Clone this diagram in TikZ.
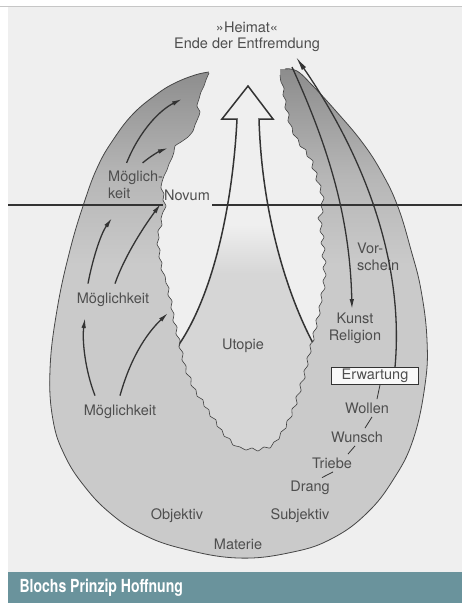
\documentclass[tikz,border=0pt]{standalone}
\usepackage{fontspec}
\setmainfont{TeX Gyre Heros}
\newfontfamily\capfont[FakeStretch=0.78]{TeX Gyre Heros}
\usetikzlibrary{arrows.meta, calc}

\definecolor{panel}{HTML}{EFEFEF}
\definecolor{eggtop}{HTML}{8C8C8C}
\definecolor{eggmid}{HTML}{B6B6B6}
\definecolor{egglow}{HTML}{CACACA}
\definecolor{utop}{HTML}{D6D6D6}
\definecolor{ink}{HTML}{333333}
\definecolor{txt}{HTML}{4E4E4E}
\definecolor{bar}{HTML}{6A939C}

% path box sits between 25bp and 75bp
\pgfdeclareverticalshading{eggshade}{100bp}{color(0bp)=(egglow); color(55bp)=(egglow); color(64bp)=(eggmid); color(75bp)=(eggtop); color(100bp)=(eggtop)}
\pgfdeclareverticalshading{utoshade}{100bp}{color(0bp)=(utop); color(53bp)=(utop); color(60bp)=(panel); color(100bp)=(panel)}

% outer rim of the egg
\newcommand{\eggpts}{plot[smooth, tension=0.7] coordinates {(209,72) (195,75) (175,83) (157,94) (133,114) (113,140) (98,166) (85,200) (70,250) (57,310) (50,370) (53,420) (65,456) (85,487) (110,513) (140,533) (180,548) (238,558) (293,552) (333,538) (367,513) (393,480) (413,440) (425,385) (427,340) (421,290) (411,250) (398,207) (382,173) (362,142) (335,110) (312,85) (297,71) (285,69)}}
% torn inner edge, left lobe -> bottom -> right lobe
\newcommand{\tornedge}{plot[smooth, tension=0.4] coordinates {(209,73) (206,80) (204,86) (201,92) (199,99) (197,106) (200,112) (198,118) (195,125) (193,131) (188,137) (181,142) (175,146) (174,152) (172,158) (169,164) (167,170) (164,176) (162,182) (161,188) (164,194) (163,200) (166,206) (163,212) (161,219) (162,225) (158,231) (159,238) (157,244) (160,250) (159,257) (162,263) (161,269) (165,276) (166,283) (169,288) (168,295) (172,301) (171,308) (174,314) (173,321) (177,327) (176,334) (180,340) (179,347) (183,353) (182,360) (186,366) (186,373) (191,378) (191,385) (196,390) (197,396) (203,400) (204,406) (209,410) (210,416) (216,420) (217,426) (222,430) (224,436) (230,439) (233,445) (240,447) (246,450) (252,448) (258,451) (264,447) (270,448) (274,442) (279,439) (281,432) (286,428) (287,421) (292,416) (292,409) (297,404) (296,397) (301,391) (300,384) (305,378) (304,371) (308,365) (307,358) (311,352) (310,345) (314,340) (313,333) (317,327) (316,320) (320,314) (319,307) (322,301) (321,294) (325,288) (323,281) (326,275) (323,268) (326,262) (322,256) (325,249) (321,243) (324,237) (320,231) (322,224) (318,218) (323,212) (321,205) (324,198) (320,192) (321,186) (316,180) (317,173) (312,168) (313,161) (307,156) (306,150) (300,146) (298,139) (293,134) (292,127) (288,121) (289,114) (285,108) (286,101) (283,95) (284,88) (281,82) (280,75)}}

\begin{document}
\begin{tikzpicture}[
    x=1pt, y=-1pt,
    >={Latex[length=10pt,width=4.5pt]},
    every node/.style={font=\fontsize{14.5}{17}\selectfont, text=txt},
    inkline/.style={ink, line width=1.3pt},
    chainline/.style={ink, line width=0.8pt},
]
\useasboundingbox (0,0) rectangle (462,603);
% page, panel and caption bar
\fill[white] (0,0) rectangle (462,603);
\fill[panel] (8,7) rectangle (462,572);
\draw[gray!45, line width=1pt] (0,6) -- (462,6);
\fill[bar] (8,572) rectangle (462,603);
\node[anchor=west, text=white, font=\capfont\bfseries\fontsize{18}{20}\selectfont] (caption) at (16,588) {Blochs Prinzip Hoffnung};

% the egg
\shade[shading=eggshade] \eggpts -- cycle;
\draw[gray!55!black, line width=0.8pt] \eggpts;

% the open (white) inside
\fill[panel] \tornedge -- (281,40) -- (208,40) -- cycle;

% utopia funnel and the hollow arrow, cut at the torn edge
\begin{scope}
\clip \tornedge -- (281,40) -- (208,40) -- cycle;
\shade[shading=utoshade] (237,119) .. controls (233,200) and (215,290) .. (180,343) -- (168,368) -- (168,470) -- (330,470) -- (324,368) -- (313,343) .. controls (290,300) and (262,220) .. (259,119) -- cycle;
\draw[inkline, line width=1.5pt, line join=miter] (168,368) -- (180,343) .. controls (215,290) and (233,200) .. (237,119) -- (222,119) -- (248,86) -- (273,119) -- (259,119) .. controls (262,220) and (290,300) .. (313,343) -- (324,368);
\end{scope}
\draw[gray!50!black, line width=0.6pt] \tornedge;

% horizon
\draw[ink, line width=1.8pt] (8,205) -- (163,205);
\draw[ink, line width=1.8pt] (212,205) -- (462,205);

% labels
\node (heimat) at (247,27) {»Heimat«};
\node (ende) at (247,45) {Ende der Entfremdung};
\node[align=left, anchor=west, inner sep=0pt] (mog1) at (108,185) {Möglich-\\keit};
\node (novum) at (187,195) {Novum};
\node (mog2) at (113,300) {Möglichkeit};
\node (mog3) at (120,412) {Möglichkeit};
\node (utopie) at (243,346) {Utopie};
\node[align=left, anchor=west, inner sep=0pt] (vor) at (357,257) {Vor-\\schein};
\node[align=center] (kunst) at (355,328) {Kunst\\Religion};
\node[draw=ink, fill=white!60!panel, line width=1pt, inner xsep=10pt, inner ysep=1.5pt] (erw) at (375,376) {Erwartung};
\node (wollen) at (367,408) {Wollen};
\node (wunsch) at (357,437) {Wunsch};
\node (triebe) at (332,463) {Triebe};
\node (drang) at (310,488) {Drang};
\node (objektiv) at (177,516) {Objektiv};
\node (subjektiv) at (300,516) {Subjektiv};
\node (materie) at (238,544) {Materie};

% from drive up to expectation
\draw[chainline] ([xshift=5pt]erw.south) -- ([xshift=10pt]wollen.north);
\draw[chainline] ([xshift=5pt]wollen.south) -- ([xshift=8pt]wunsch.north);
\draw[chainline] ([xshift=-2pt]wunsch.south) -- ([xshift=16pt]triebe.north);
\draw[chainline] ([xshift=1pt]triebe.south) -- ([xshift=12pt]drang.north);

% possibilities pushing up (left side)
\coordinate (a1) at (182,99);
\coordinate (a2) at (168,148);
\coordinate (a3) at (112,218);
\coordinate (a5) at (85,318);
\coordinate (a6) at (168,313);
\draw[->, inkline] ([xshift=-9pt,yshift=8pt]mog1.north) .. controls (140,130) and (160,110) .. (a1);
\draw[->, inkline] ([xshift=7pt,yshift=8pt]mog1.north) .. controls (152,155) and (160,151) .. (a2);
\draw[->, inkline] ([xshift=-25pt,yshift=6pt]mog2.north) .. controls (92,262) and (100,235) .. (a3);
\draw[->, inkline] ([xshift=2pt,yshift=6pt]mog2.north) .. controls (125,255) and (145,225) .. (novum.south west);
\draw[->, inkline] ([xshift=-25pt,yshift=6pt]mog3.north) .. controls (85,370) and (82,340) .. (a5);
\draw[->, inkline] ([yshift=6pt]mog3.north) .. controls (130,360) and (145,335) .. (a6);

% pre-appearance (right side)
\coordinate (r1) at (292,67);
\coordinate (r2) at (296,57);
\draw[->, inkline] (r1) .. controls (330,150) and (350,220) .. ([xshift=-3pt]kunst.north);
\draw[-{Latex[length=14pt,width=5pt]}, inkline] ([xshift=20pt]erw.north) .. controls (405,257) and (360,150) .. (r2);
\end{tikzpicture}
\end{document}
